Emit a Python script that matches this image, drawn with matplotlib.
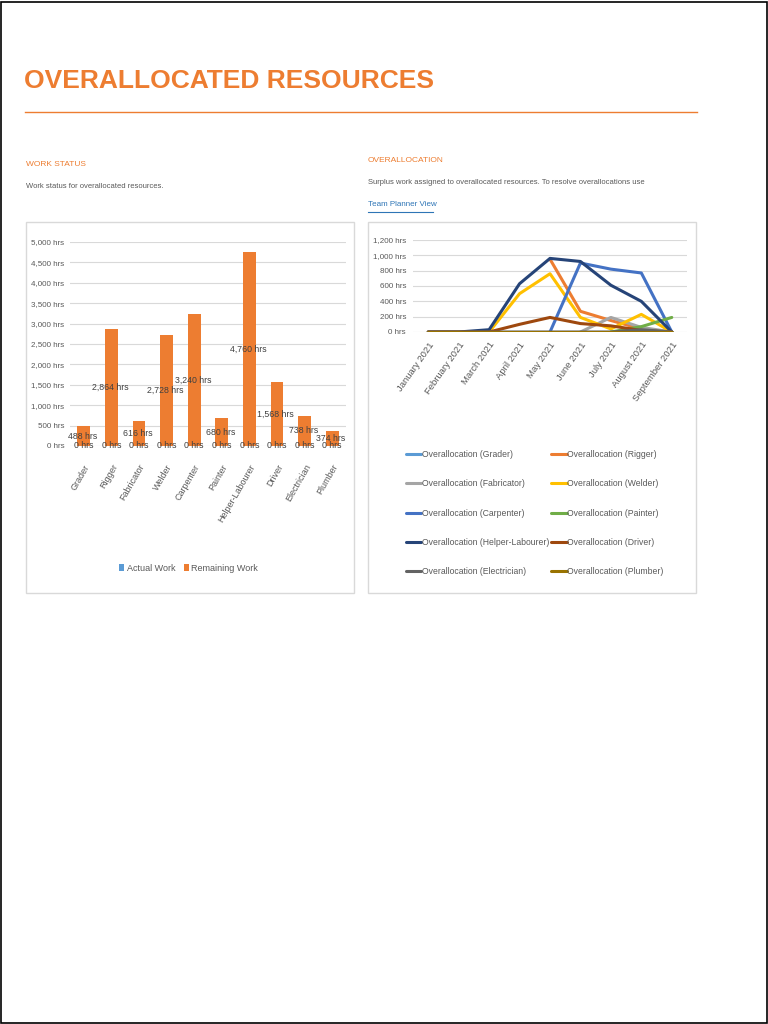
import numpy as np
import matplotlib
matplotlib.use('Agg')
import matplotlib.pyplot as plt
from matplotlib import font_manager
from matplotlib.patches import Rectangle
from matplotlib.lines import Line2D

# pick the narrowest face that is installed
names = {f.name for f in font_manager.fontManager.ttflist}
FONT = 'Liberation Sans Narrow' if 'Liberation Sans Narrow' in names else 'Liberation Sans'
plt.rcParams['font.family'] = [FONT, 'DejaVu Sans']

ORANGE = '#ED7D31'
GREY_TXT = '#595959'

# =============================================================================
# Data
# =============================================================================
resources = ['Grader', 'Rigger', 'Fabricator', 'Welder', 'Carpenter', 'Painter',
             'Helper-Labourer', 'Driver', 'Electrician', 'Plumber']
actual_work = [0, 0, 0, 0, 0, 0, 0, 0, 0, 0]
remaining_work = [488, 2864, 616, 2728, 3240, 680, 4760, 1568, 738, 374]

months = ['January 2021', 'February 2021', 'March 2021', 'April 2021', 'May 2021',
          'June 2021', 'July 2021', 'August 2021', 'September 2021']
nan = np.nan
over_grader = [0, 0, 0, 0, 0, 0, 0, 0, 0]
over_rigger = [nan, nan, nan, nan, 950, 270, 150, 40, 0]
over_fabricator = [nan, nan, nan, nan, nan, 0, 190, 60, 0]
over_welder = [0, 0, 0, 500, 760, 190, 40, 230, 0]
over_carpenter = [nan, nan, nan, nan, 0, 900, 820, 770, 0]
over_painter = [nan, nan, nan, nan, nan, nan, 0, 70, 190]
over_helper = [0, 0, 30, 630, 960, 920, 610, 400, 0]
over_driver = [0, 0, 0, 100, 190, 110, 80, 20, 0]
over_electrician = [0, 0, 0, 0, 0, 0, 0, 30, 0]
over_plumber = [0, 0, 0, 0, 0, 0, 0, 0, 0]

W, H = 768, 1024
fig = plt.figure(figsize=(W / 100, H / 100), dpi=100)
fig.patch.set_facecolor('white')


def px_axes(x0, y0, x1, y1):
    return fig.add_axes([x0 / W, 1 - y1 / H, (x1 - x0) / W, (y1 - y0) / H])


def px_text(x, y, s, **kw):
    fig.text(x / W, 1 - y / H, s, **kw)


# page frame
fig.patches.append(Rectangle((0.5 / W, 1.5 / H), (W - 1.5) / W, (H - 3) / H,
                             transform=fig.transFigure, fill=False,
                             edgecolor='black', linewidth=1.2))

# header
px_text(24, 81, 'OVERALLOCATED RESOURCES', color=ORANGE, fontsize=19,
        fontweight='bold', va='center', ha='left')
fig.add_artist(Line2D([25 / W, 697 / W], [1 - 112 / H, 1 - 112 / H],
                      transform=fig.transFigure, color=ORANGE, linewidth=1))

px_text(26, 164, 'WORK STATUS', color=ORANGE, fontsize=6, va='center')
px_text(26, 187, 'Work status for overallocated resources.', color=GREY_TXT,
        fontsize=5.5, va='center')
px_text(368, 160, 'OVERALLOCATION', color=ORANGE, fontsize=6, va='center')
px_text(368, 183, 'Surplus work assigned to overallocated resources. To resolve '
        'overallocations use', color=GREY_TXT, fontsize=5.5, va='center')
px_text(368, 205, 'Team Planner View', color='#2E75B6', fontsize=5.8,
        va='center')
fig.add_artist(Line2D([368 / W, 433 / W], [1 - 212 / H, 1 - 212 / H],
                      transform=fig.transFigure, color='#2E75B6', linewidth=0.8))

# chart frames
for x0 in (26, 368):
    fig.patches.append(Rectangle((x0 / W, 1 - 593 / H), 328 / W, 371 / H,
                                 transform=fig.transFigure, fill=False,
                                 edgecolor='#D9D9D9', linewidth=1))

# =============================================================================
# Work status bars
# =============================================================================
ax = px_axes(70, 242, 346, 446)
x = np.arange(len(resources))
ax.bar(x - 0.12, actual_work, width=0.35, color='#5B9BD5', label='Actual Work')
ax.bar(x, remaining_work, width=0.47, color=ORANGE, label='Remaining Work')
ax.set_xlim(-0.5, len(resources) - 0.5)
ax.set_ylim(0, 5000)
ax.set_yticks(np.arange(0, 5001, 500))
ax.set_yticklabels([f'{v:,} hrs' for v in range(0, 5001, 500)])
ax.yaxis.grid(True, color='#D9D9D9', linewidth=0.8)
ax.set_axisbelow(True)
for s in ax.spines.values():
    s.set_visible(False)
ax.tick_params(axis='y', length=0, labelsize=5.8, labelcolor=GREY_TXT, pad=4)
ax.tick_params(axis='x', length=0, labelsize=6.5, labelcolor=GREY_TXT, pad=12)
ax.set_xticks(x)
ax.set_xticklabels(resources, rotation=60, ha='right', rotation_mode='anchor')
for i, (a, r) in enumerate(zip(actual_work, remaining_work)):
    ax.text(i, a, f'{a} hrs', ha='center', va='center', fontsize=6.3,
            color='#404040')
    ax.text(i - 0.05, r / 2, f'{r:,} hrs', ha='center', va='center',
            fontsize=6.3, color='#404040')
ax.legend(loc='center', bbox_to_anchor=(0.43, -0.6), ncol=2, frameon=False,
          fontsize=6.5, handlelength=0.5, handleheight=0.8, handletextpad=0.3,
          columnspacing=1.0, labelcolor=GREY_TXT)

# =============================================================================
# Overallocation lines
# =============================================================================
ax2 = px_axes(413, 240, 687, 332)
series = [
    ('Overallocation (Grader)', over_grader, '#5B9BD5'),
    ('Overallocation (Rigger)', over_rigger, '#ED7D31'),
    ('Overallocation (Fabricator)', over_fabricator, '#A5A5A5'),
    ('Overallocation (Welder)', over_welder, '#FFC000'),
    ('Overallocation (Carpenter)', over_carpenter, '#4472C4'),
    ('Overallocation (Painter)', over_painter, '#70AD47'),
    ('Overallocation (Helper-Labourer)', over_helper, '#264478'),
    ('Overallocation (Driver)', over_driver, '#9E480E'),
    ('Overallocation (Electrician)', over_electrician, '#636363'),
    ('Overallocation (Plumber)', over_plumber, '#997300'),
]
xm = np.arange(len(months))
for label, vals, col in series:
    ax2.plot(xm, vals, color=col, linewidth=2.2, label=label,
             solid_capstyle='round')
ax2.set_xlim(-0.5, len(months) - 0.5)
ax2.set_ylim(0, 1200)
ax2.set_yticks(np.arange(0, 1201, 200))
ax2.set_yticklabels([f'{v:,} hrs' for v in range(0, 1201, 200)])
ax2.yaxis.grid(True, color='#D9D9D9', linewidth=0.8)
ax2.set_axisbelow(True)
for s in ax2.spines.values():
    s.set_visible(False)
ax2.set_xticks(xm)
ax2.set_xticklabels(months, rotation=55, ha='right', rotation_mode='anchor')
ax2.tick_params(axis='y', length=0, labelsize=5.8, labelcolor=GREY_TXT, pad=5)
ax2.tick_params(axis='x', length=0, labelsize=6.8, labelcolor=GREY_TXT, pad=6)

# legend is filled row by row, two per row
h, l = ax2.get_legend_handles_labels()
order = list(range(0, len(h), 2)) + list(range(1, len(h), 2))
ax2.legend([h[i] for i in order], [l[i] for i in order], loc='upper left',
           bbox_to_anchor=(-0.055, -1.2), ncol=2, frameon=False, fontsize=6.2,
           handlelength=1.8, handletextpad=0.1, columnspacing=0.2,
           labelspacing=2.35, labelcolor=GREY_TXT)

plt.savefig('out.png', dpi=100)
